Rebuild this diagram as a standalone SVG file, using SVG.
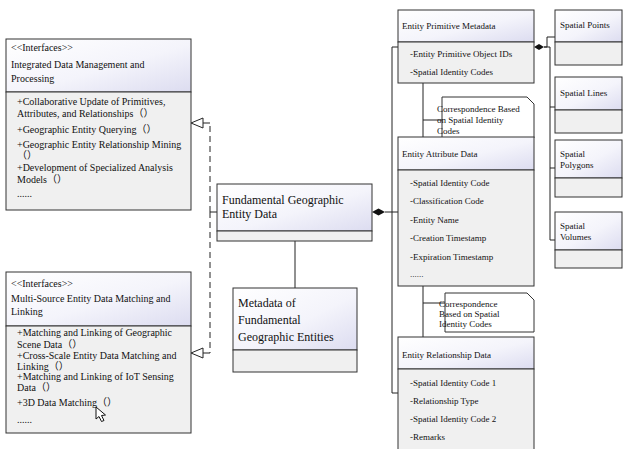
<svg xmlns="http://www.w3.org/2000/svg" width="624" height="449" viewBox="0 0 624 449">
<defs>
<linearGradient id="hg" x1="0" y1="0" x2="1" y2="1">
<stop offset="0" stop-color="#ffffff"/>
<stop offset="0.55" stop-color="#f4f4fb"/>
<stop offset="1" stop-color="#dcdcf0"/>
</linearGradient>
</defs>
<style>
.hd{fill:url(#hg);stroke:#333;stroke-width:1}
.bd{fill:#f0f0f0;stroke:#333;stroke-width:1}
.nt{fill:#fff;stroke:#333;stroke-width:1}
.ln{fill:none;stroke:#222;stroke-width:1}
.dl{fill:none;stroke:#222;stroke-width:1;stroke-dasharray:6,4}
text{font-family:"Liberation Serif","Noto Sans CJK SC",serif;fill:#111}
.t10{font-size:10px}
.t9{font-size:9px}
.t12{font-size:12px}
</style>

<g id="connectors">
<path class="ln" d="M217,212 L210,212"/>
<path class="dl" d="M210,212 L210,123"/>
<path class="dl" d="M210,212 L210,353"/>
<path class="ln" d="M210,123 L203,123"/>
<polygon points="191,123 203,118 203,128" fill="#fff" stroke="#222"/>
<path class="ln" d="M210,353 L203,353"/>
<polygon points="191,353 203,348 203,358" fill="#fff" stroke="#222"/>
<path class="ln" d="M295,241 L295,288" stroke="#555"/>
<path class="ln" d="M385,212 L398,212"/>
<path class="ln" d="M392,47 L392,393"/>
<path class="ln" d="M392,47 L398,47"/>
<path class="ln" d="M392,393 L398,393"/>
<polygon points="372,212 378.5,208.5 385,212 378.5,215.5" fill="#111"/>
<path class="ln" d="M423,83 L423,137"/>
<path class="ln" d="M423,120 L442,120"/>
<path class="ln" d="M423,286 L423,337"/>
<path class="ln" d="M423,303 L445,303"/>
<polygon points="534,47 539,44 544,47 539,50" fill="#111"/>
<path class="ln" d="M544,47 L547,47 L547,37 L555,37"/>
<path class="ln" d="M544,47 L550,47 L550,240 L555,240"/>
<path class="ln" d="M550,107 L555,107"/>
<path class="ln" d="M550,168 L555,168"/>
</g>

<g id="integrated-data-management">
<rect class="hd" x="6" y="39" width="185" height="53"/>
<rect class="bd" x="6" y="92" width="185" height="118"/>
<text class="t10" x="11" y="51">&lt;&lt;Interfaces&gt;&gt;</text>
<text class="t10" x="11" y="68">Integrated Data Management and</text>
<text class="t10" x="11" y="82">Processing</text>
<text class="t10" x="17" y="105">+Collaborative Update of Primitives,</text>
<text class="t10" x="17" y="117">Attributes, and Relationships（）</text>
<text class="t10" x="17" y="133">+Geographic Entity Querying（）</text>
<text class="t10" x="17" y="148">+Geographic Entity Relationship Mining</text>
<text class="t10" x="17" y="159">（）</text>
<text class="t10" x="17" y="171">+Development of Specialized Analysis</text>
<text class="t10" x="17" y="183">Models（）</text>
<text class="t10" x="17" y="197">......</text>
</g>

<g id="multi-source-matching">
<rect class="hd" x="6" y="272" width="185" height="54"/>
<rect class="bd" x="6" y="326" width="185" height="107"/>
<text class="t10" x="11" y="287">&lt;&lt;Interfaces&gt;&gt;</text>
<text class="t10" x="11" y="302">Multi-Source Entity Data Matching and</text>
<text class="t10" x="11" y="315">Linking</text>
<text class="t10" x="17" y="336">+Matching and Linking of Geographic</text>
<text class="t10" x="17" y="348">Scene Data（）</text>
<text class="t10" x="17" y="359">+Cross-Scale Entity Data Matching and</text>
<text class="t10" x="17" y="370">Linking（）</text>
<text class="t10" x="17" y="380">+Matching and Linking of IoT Sensing</text>
<text class="t10" x="17" y="391">Data（）</text>
<text class="t10" x="17" y="406">+3D Data Matching（）</text>
<text class="t10" x="17" y="423">......</text>
<path d="M96,407 L96,419 L99,416.5 L101.5,421.5 L104,420.5 L101.5,415.5 L105.5,415 Z" fill="#fff" stroke="#111" stroke-width="1"/>
</g>

<g id="fundamental-geographic-entity-data">
<rect class="hd" x="217" y="184" width="155" height="47"/>
<rect class="bd" x="217" y="231" width="155" height="10"/>
<text class="t12" x="222" y="204">Fundamental Geographic</text>
<text class="t12" x="222" y="218">Entity Data</text>
</g>

<g id="metadata-fundamental">
<rect class="hd" x="233" y="288" width="124" height="62"/>
<rect class="bd" x="233" y="350" width="124" height="22"/>
<text class="t12" x="238" y="307">Metadata of</text>
<text class="t12" x="238" y="324">Fundamental</text>
<text class="t12" x="238" y="341">Geographic Entities</text>
</g>

<g id="entity-primitive-metadata">
<rect class="hd" x="398" y="10" width="136" height="32"/>
<rect class="bd" x="398" y="42" width="136" height="41"/>
<text class="t9" x="402" y="29">Entity Primitive Metadata</text>
<text class="t9" x="410" y="57">-Entity Primitive Object IDs</text>
<text class="t9" x="410" y="75">-Spatial Identity Codes</text>
</g>

<g id="note-correspondence-1">
<path class="nt" d="M442,97 L527,97 L534,104 L534,138 L442,138 Z"/>
<text class="t9" x="437" y="112">Correspondence Based</text>
<text class="t9" x="437" y="123">on Spatial Identity</text>
<text class="t9" x="437" y="134">Codes</text>
</g>

<g id="entity-attribute-data">
<rect class="hd" x="398" y="137" width="136" height="33"/>
<rect class="bd" x="398" y="170" width="136" height="116"/>
<text class="t9" x="402" y="157">Entity Attribute Data</text>
<text class="t9" x="410" y="186">-Spatial Identity Code</text>
<text class="t9" x="410" y="204">-Classification Code</text>
<text class="t9" x="410" y="223">-Entity Name</text>
<text class="t9" x="410" y="241">-Creation Timestamp</text>
<text class="t9" x="410" y="260">-Expiration Timestamp</text>
<text class="t9" x="410" y="277">......</text>
</g>

<g id="note-correspondence-2">
<path class="nt" d="M445,293 L527,293 L534,300 L534,332 L445,332 Z"/>
<text class="t9" x="439" y="307">Correspondence</text>
<text class="t9" x="439" y="317">Based on Spatial</text>
<text class="t9" x="439" y="327">Identity Codes</text>
</g>

<g id="entity-relationship-data">
<rect class="hd" x="398" y="337" width="136" height="32"/>
<rect class="bd" x="398" y="369" width="136" height="84"/>
<text class="t9" x="402" y="358">Entity Relationship Data</text>
<text class="t9" x="410" y="386">-Spatial Identity Code 1</text>
<text class="t9" x="410" y="404">-Relationship Type</text>
<text class="t9" x="410" y="422">-Spatial Identity Code 2</text>
<text class="t9" x="410" y="440">-Remarks</text>
</g>

<g id="spatial-points">
<rect class="hd" x="555" y="10" width="67" height="32"/>
<rect class="bd" x="555" y="42" width="67" height="23"/>
<text class="t9" x="560" y="28">Spatial Points</text>
</g>

<g id="spatial-lines">
<rect class="hd" x="555" y="77" width="67" height="33"/>
<rect class="bd" x="555" y="110" width="67" height="23"/>
<text class="t9" x="560" y="96">Spatial Lines</text>
</g>

<g id="spatial-polygons">
<rect class="hd" x="555" y="140" width="67" height="38"/>
<rect class="bd" x="555" y="178" width="67" height="19"/>
<text class="t9" x="560" y="157">Spatial</text>
<text class="t9" x="560" y="168">Polygons</text>
</g>

<g id="spatial-volumes">
<rect class="hd" x="555" y="212" width="67" height="38"/>
<rect class="bd" x="555" y="250" width="67" height="18"/>
<text class="t9" x="560" y="229">Spatial</text>
<text class="t9" x="560" y="240">Volumes</text>
</g>
</svg>
